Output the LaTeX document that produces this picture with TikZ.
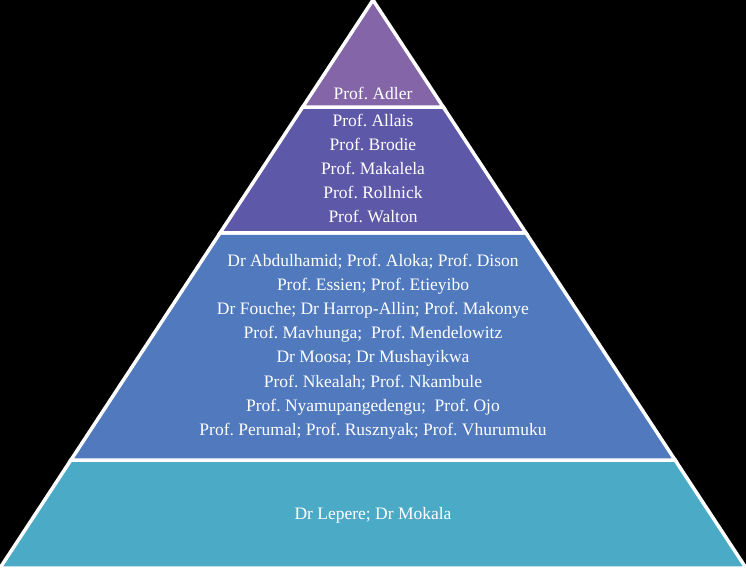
\documentclass[tikz,border=0pt]{standalone}
\usepackage{fontspec}
\setmainfont{Liberation Serif}
\usetikzlibrary{calc}
\definecolor{lay1}{HTML}{8466A8}
\definecolor{lay2}{HTML}{5E58A8}
\definecolor{lay3}{HTML}{5079BE}
\definecolor{lay4}{HTML}{4BABC6}
\tikzset{
  layer/.style={draw=white,line width=3.5pt,line join=miter},
  label/.style={text=white,align=center,font=\fontsize{17.5}{24.2}\selectfont\frenchspacing,inner sep=0pt}
}
\begin{document}
\frenchspacing
\begin{tikzpicture}[x=1pt,y=1pt]
\fill[black] (0,0) rectangle (746,568);
\useasboundingbox (0,0) rectangle (746,568);
\coordinate (A) at (373,568);
\coordinate (BL) at (0,0);
\coordinate (BR) at (746,0);
\coordinate (L1) at ($(BL)!0.1901!(A)$);
\coordinate (R1) at ($(BR)!0.1901!(A)$);
\coordinate (L2) at ($(BL)!0.5898!(A)$);
\coordinate (R2) at ($(BR)!0.5898!(A)$);
\coordinate (L3) at ($(BL)!0.8116!(A)$);
\coordinate (R3) at ($(BR)!0.8116!(A)$);
\filldraw[layer,fill=lay4] (BL) -- (BR) -- (R1) -- (L1) -- cycle;
\filldraw[layer,fill=lay3] (L1) -- (R1) -- (R2) -- (L2) -- cycle;
\filldraw[layer,fill=lay2] (L2) -- (R2) -- (R3) -- (L3) -- cycle;
\filldraw[layer,fill=lay1] (L3) -- (R3) -- (A) -- cycle;
\node[label] (t1) at (373,475) {Prof. Adler};
\node[label] (t2) at (373,399.5) {Prof. Allais\\Prof. Brodie\\Prof. Makalela\\Prof. Rollnick\\Prof. Walton};
\node[label] (t3) at (373,221.5) {Dr Abdulhamid; Prof. Aloka; Prof. Dison\\Prof. Essien; Prof. Etieyibo\\Dr Fouche; Dr Harrop-Allin; Prof. Makonye\\Prof. Mavhunga;\ \ Prof. Mendelowitz\\Dr Moosa; Dr Mushayikwa\\Prof. Nkealah; Prof. Nkambule\\Prof. Nyamupangedengu;\ \ Prof. Ojo\\Prof. Perumal; Prof. Rusznyak; Prof. Vhurumuku};
\node[label] (t4) at (373,53) {Dr Lepere; Dr Mokala};
\end{tikzpicture}
\end{document}
